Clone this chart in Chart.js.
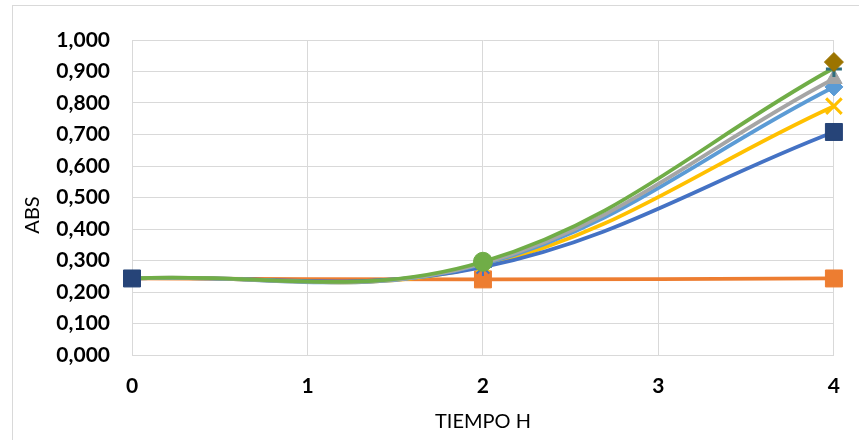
<!DOCTYPE html>
<html>
<head>
<meta charset="utf-8">
<script src="https://cdn.jsdelivr.net/npm/chart.js@4"></script>
<style>
  html, body { margin: 0; padding: 0; background: #ffffff; }
  #wrap { position: relative; width: 859px; height: 440px; overflow: hidden; }
  canvas { display: block; }
</style>
</head>
<body>
<div id="wrap"><canvas id="c" width="859" height="440"></canvas></div>
<script>
// ---- data ----
const tiempoH = [0, 2, 4];                       // x categories (hours)
const xTickLabels = ['0', '1', '2', '3', '4'];
const yTickLabels = ['0,000','0,100','0,200','0,300','0,400','0,500','0,600','0,700','0,800','0,900','1,000'];

const serieNaranja  = [0.243, 0.240, 0.243];
const serieAmarilla = [0.243, 0.283, 0.790];
const serieAzul     = [0.243, 0.279, 0.708];
const serieCeleste  = [0.243, 0.288, 0.851];
const serieGris     = [0.243, 0.291, 0.877];
const serieVerde    = [0.243, 0.296, 0.911];
const marcadorOliva = [null, null, 0.930];
const marcadorCruz  = [null, null, 0.908];
const marcadorMarino = [0.243, null, 0.708];

const toXY = arr => arr.map((v, i) => ({ x: tiempoH[i], y: v }));

const FONT = 'Lato, "Open Sans", sans-serif';

function lineDs(label, values, color, extra) {
  return Object.assign({
    label: label,
    data: toXY(values),
    borderColor: color,
    backgroundColor: color,
    pointBackgroundColor: color,
    pointBorderColor: color,
    borderWidth: 3.8,
    tension: 0.38,
    pointRadius: 0,
    pointBorderWidth: 1,
    showLine: true,
    spanGaps: false,
    clip: false
  }, extra || {});
}

function markerDs(label, values, color, style, radius, extra) {
  return Object.assign({
    label: label,
    data: toXY(values),
    showLine: false,
    borderColor: color,
    backgroundColor: color,
    pointBackgroundColor: color,
    pointBorderColor: color,
    pointStyle: style,
    pointRadius: radius,
    pointBorderWidth: 1,
    clip: false
  }, extra || {});
}

// first dataset is drawn on top
const datasets = [
  markerDs('M10', marcadorOliva, '#9C7400', 'rectRot', 9.5),
  markerDs('M11', marcadorCruz, '#2E6E7E', 'cross', 8, { pointBorderWidth: 3 }),
  markerDs('M7', marcadorMarino, '#264478', 'rect', 12),
  lineDs('S6', serieVerde, '#70AD47', { pointStyle: 'circle', pointRadius: [0, 9.5, 0] }),
  lineDs('S3', serieGris, '#A5A5A5', { pointStyle: 'triangle', pointRadius: [0, 0, 9.5] }),
  lineDs('S5', serieCeleste, '#5B9BD5', { pointStyle: 'rectRot', pointRadius: [0, 0, 9] }),
  lineDs('S1', serieAzul, '#4472C4', { pointStyle: 'star', pointRadius: [0, 9, 0], pointBorderWidth: 2 }),
  lineDs('S4', serieAmarilla, '#FFC000', { pointStyle: 'crossRot', pointRadius: [0, 9, 11], pointBorderWidth: 3 }),
  lineDs('S2', serieNaranja, '#ED7D31', { pointStyle: 'rect', pointRadius: [0, 12, 12], tension: 0.3 })
];

const frame = {
  id: 'frame',
  beforeDraw(chart) {
    const ctx = chart.ctx;
    ctx.save();
    ctx.fillStyle = '#ffffff';
    ctx.fillRect(0, 0, chart.width, chart.height);
    ctx.strokeStyle = '#d9d9d9';
    ctx.lineWidth = 1;
    ctx.strokeRect(12.5, 5.5, 1000, 1000);
    ctx.restore();
  },
  afterDraw(chart) {
    const ctx = chart.ctx;
    ctx.save();
    ctx.translate(33, 215);
    ctx.rotate(-Math.PI / 2);
    ctx.fillStyle = '#000000';
    ctx.font = '20px ' + FONT;
    ctx.textAlign = 'center';
    ctx.textBaseline = 'middle';
    ctx.fillText('ABS', 0, 0);
    ctx.restore();
  }
};

new Chart(document.getElementById('c'), {
  type: 'line',
  data: { datasets: datasets },
  plugins: [frame],
  options: {
    responsive: false,
    devicePixelRatio: 1,
    animation: false,
    layout: { padding: { left: 0, right: 24, top: 40, bottom: 0 } },
    plugins: { legend: { display: false }, tooltip: { enabled: false } },
    elements: { line: { capBezierPoints: false } },
    scales: {
      x: {
        type: 'linear',
        min: 0, max: 4,
        afterFit(s) { s.height = 85; },
        afterBuildTicks(s) { s.ticks = xTickLabels.map((t, i) => ({ value: i })); },
        ticks: {
          stepSize: 1,
          padding: 19,
          color: '#000000',
          font: { family: FONT, size: 21, weight: 'bold' },
          callback: (v, i) => xTickLabels[i]
        },
        grid: { color: '#d9d9d9', lineWidth: 1, drawTicks: false },
        border: { color: '#d9d9d9', width: 1 },
        title: {
          display: true,
          text: 'TIEMPO H',
          color: '#000000',
          font: { family: FONT, size: 20 },
          padding: { top: 0, bottom: 6 }
        }
      },
      y: {
        min: 0, max: 1,
        afterFit(s) { s.width = 132; },
        afterBuildTicks(s) { s.ticks = yTickLabels.map((t, i) => ({ value: i / 10 })); },
        ticks: {
          padding: 22,
          color: '#000000',
          font: { family: FONT, size: 21, weight: 'bold' },
          callback: (v, i) => yTickLabels[i]
        },
        grid: { color: '#d9d9d9', lineWidth: 1, drawTicks: false },
        border: { color: '#d9d9d9', width: 1 }
      }
    }
  }
});
</script>
</body>
</html>
